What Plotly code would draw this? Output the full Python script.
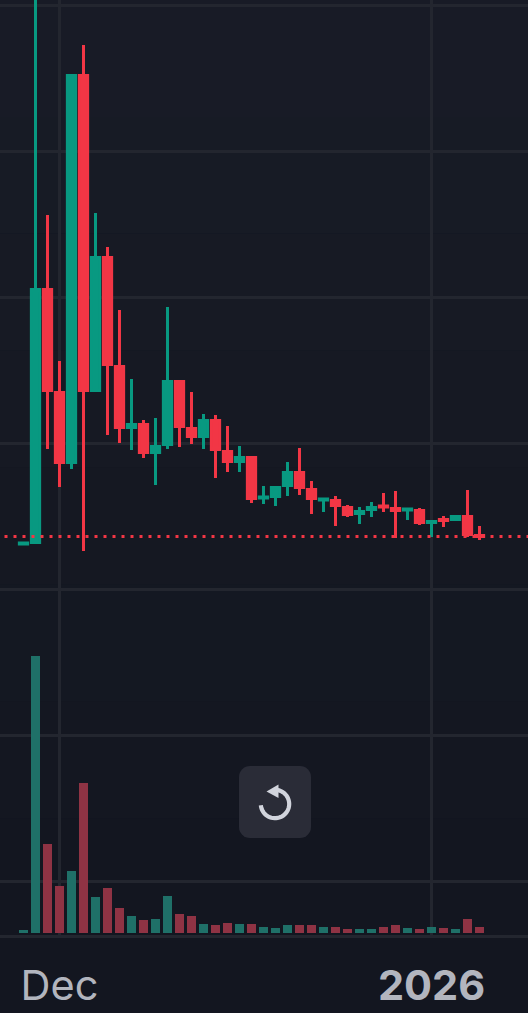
import math
import pandas as pd
import plotly.graph_objects as go

W, H, PLOT_H = 528, 1013, 935

# ---- data (daily candles, arbitrary price / volume units) ----
dates = pd.date_range("2025-11-28", "2026-01-05", freq="D")
opens = [391, 392.5, 645.5, 542.5, 472.5, 859.5, 544.5, 677.5, 568.5, 507.5, 510.5, 482.5, 490.5,
         553.5, 506.5, 498.5, 514.5, 483.5, 473.5, 477.5, 437, 438.5, 449.5, 462.5, 445.5, 435,
         434.5, 427.5, 421.5, 425.5, 429, 426.5, 425, 424.5, 412.5, 415.5, 415.5, 418.5, 399.5]
highs = [392, 960, 720, 574, 861, 890, 722, 688, 625, 556, 515, 517, 628,
         555, 543, 521, 520, 509, 489, 479, 449, 449, 473, 487, 454, 437,
         439, 430, 428, 433, 442, 444, 427, 427, 415, 419, 420, 445, 409]
lows = [391, 391, 486, 448, 466, 384, 543, 500, 492, 485, 477, 450, 486,
        488, 491, 486, 457, 463, 463, 432, 431, 429, 439, 440, 421, 423,
        409, 418, 411, 418, 423, 397, 415, 410, 398, 408, 414, 398, 395]
closes = [392, 645.5, 544.5, 472.5, 859.5, 544.5, 677.5, 570.5, 507.5, 510.5, 482.5, 488.5, 553.5,
          508.5, 498.5, 514.5, 485.5, 473.5, 477.5, 436.5, 438, 447.5, 462.5, 447.5, 436.5, 436,
          429.5, 420.5, 423.5, 427.5, 428, 424.5, 426, 412.5, 413.5, 414.5, 418.5, 400.5, 398.5]
volumes = [3, 277, 89, 47, 62, 150, 36, 45, 25, 17, 13, 14, 37, 19, 17, 9, 8, 10, 9, 9,
           6, 5, 8, 8, 8, 6, 6, 4, 4, 4, 6, 8, 5, 4, 6, 5, 4, 14, 6]
price_levels = [54, 200, 346, 492, 638, 784, 930]
last_price = 398.5
tick_dates = ["2025-12-01", "2026-01-01"]
tick_labels = ["Dec", "<b>2026</b>"]

UP, DOWN = "#089981", "#f23645"
UP_VOL, DOWN_VOL = "#1f7068", "#8f3344"
GRID = "#23262f"
TEXT = "#b2b5be"

vol_colors = [UP_VOL if c >= o else DOWN_VOL for o, c in zip(opens, closes)]


def px(x):
    return x / W


def py(y):
    return 1 - y / PLOT_H


def rounded_rect(x0, y0, x1, y1, r, n=8):
    pts = []
    for cx, cy, start in [(x1 - r, y0 + r, -90), (x1 - r, y1 - r, 0), (x0 + r, y1 - r, 90), (x0 + r, y0 + r, 180)]:
        for i in range(n + 1):
            a = math.radians(start + 90 * i / n)
            pts.append((cx + r * math.cos(a), cy + r * math.sin(a)))
    return "M" + "L".join(f"{px(a):.5f},{py(b):.5f}" for a, b in pts) + "Z"


def arc_path(cx, cy, r, a0, a1, n=40):
    pts = []
    for i in range(n + 1):
        a = math.radians(a0 + (a1 - a0) * i / n)
        pts.append((cx + r * math.cos(a), cy + r * math.sin(a)))
    return "M" + "L".join(f"{px(a):.5f},{py(b):.5f}" for a, b in pts)


fig = go.Figure()
fig.add_trace(go.Bar(x=dates, y=volumes, marker=dict(color=vol_colors, line_width=0), yaxis="y2",
                     width=9 / 12 * 86400000, showlegend=False, hoverinfo="skip"))
fig.add_trace(go.Candlestick(
    x=dates, open=opens, high=highs, low=lows, close=closes, showlegend=False, whiskerwidth=0,
    increasing=dict(line=dict(color=UP, width=3), fillcolor=UP),
    decreasing=dict(line=dict(color=DOWN, width=3), fillcolor=DOWN),
))

shapes = []
# soft background glow, lighter at the top
bands = ["#181b26", "#171b25", "#171a24", "#161923", "#151822", "#141822", "#141721", "#131620"]
for i, c in enumerate(bands):
    shapes.append(dict(type="rect", xref="paper", yref="paper", x0=0, x1=1,
                       y0=py(PLOT_H * (i + 1) / len(bands)), y1=py(PLOT_H * i / len(bands)),
                       fillcolor=c, line_width=0, layer="below"))
# last price line
shapes.append(dict(type="line", xref="paper", yref="y", x0=px(4.5), x1=1, y0=last_price, y1=last_price,
                   line=dict(color=DOWN, width=3, dash="3px,6px")))
# reset button
shapes.append(dict(type="path", xref="paper", yref="paper", path=rounded_rect(239, 766, 311, 838, 11),
                   fillcolor="#2a2c37", line_width=0))
shapes.append(dict(type="path", xref="paper", yref="paper", path=arc_path(275, 804, 14.2, -80, 175),
                   line=dict(color="#d1d4dc", width=4.2)))
tri = [(266.5, 791.5), (278.5, 784.5), (278.5, 798)]
shapes.append(dict(type="path", xref="paper", yref="paper",
                   path="M" + "L".join(f"{px(a):.5f},{py(b):.5f}" for a, b in tri) + "Z",
                   fillcolor="#d1d4dc", line_width=0))

x0 = pd.Timestamp("2025-11-28") - pd.Timedelta(hours=23.5 * 2)
x1 = x0 + pd.Timedelta(hours=528 * 2)

fig.update_layout(
    width=W, height=H, margin=dict(l=0, r=0, t=0, b=H - PLOT_H, pad=0, autoexpand=False),
    paper_bgcolor="#131620", plot_bgcolor="rgba(0,0,0,0)",
    boxgap=0.31, boxgroupgap=0, showlegend=False, shapes=shapes, dragmode=False,
    xaxis=dict(type="date", range=[x0, x1], rangeslider=dict(visible=False), tickmode="array",
               tickvals=tick_dates, ticktext=tick_labels, showgrid=True, gridcolor=GRID, gridwidth=2.5,
               zeroline=False, showline=True, linecolor=GRID, linewidth=3, ticks="", ticklabelstandoff=12,
               automargin=False,
               tickfont=dict(family="Inter, Roboto, sans-serif", size=41.5, color=TEXT), tickangle=0),
    yaxis=dict(range=[0, PLOT_H], tickmode="array", tickvals=price_levels, showticklabels=False,
               showgrid=True, gridcolor=GRID, gridwidth=2.5, zeroline=False, ticks=""),
    yaxis2=dict(overlaying="y", range=[-2, 933], showticklabels=False, showgrid=False, zeroline=False, ticks=""),
)
fig.write_html("out.html", config=dict(displayModeBar=False),
               post_script="document.documentElement.style.background='#131620';"
                           "document.body.style.margin='0';document.body.style.overflow='hidden';")
